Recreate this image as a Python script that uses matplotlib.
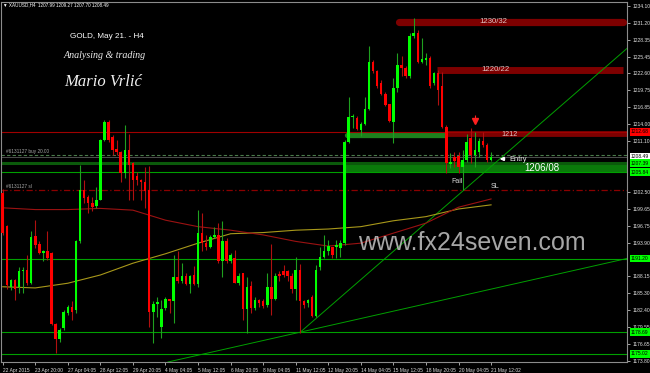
import matplotlib
matplotlib.use('Agg')
import matplotlib.pyplot as plt
import numpy as np

# ---- XAUUSD H4 candles (bar 0 = 22 Apr 2015) ----
opens = [1202.3, 1196.7, 1186.4, 1187.6, 1186.4, 1189.0, 1189.3, 1187.0, 1195.0, 1193.7,
         1192.1, 1192.4, 1192.1, 1180.1, 1177.5, 1179.4, 1181.9, 1183.0, 1182.4, 1194.1,
         1202.8, 1201.7, 1200.6, 1200.1, 1201.2, 1211.3, 1214.4, 1211.9, 1209.7, 1209.3,
         1205.7, 1209.6, 1207.4, 1205.2, 1204.5, 1204.2, 1202.8, 1182.2, 1183.5, 1179.6,
         1182.8, 1184.3, 1183.9, 1188.0, 1187.3, 1188.2, 1186.9, 1188.4, 1186.9, 1195.6,
         1193.8, 1193.2, 1194.8, 1195.2, 1190.7, 1194.2, 1190.7, 1191.2, 1187.0, 1188.7,
         1182.6, 1186.5, 1182.8, 1184.2, 1183.9, 1183.3, 1186.3, 1184.4, 1188.6, 1189.0,
         1189.0, 1188.2, 1186.0, 1189.3, 1184.0, 1183.7, 1184.7, 1181.5, 1189.8, 1191.5,
         1192.4, 1193.1, 1193.2, 1192.9, 1193.8, 1211.0, 1215.2, 1215.0, 1213.0, 1214.1,
         1216.5, 1224.6, 1223.0, 1221.0, 1219.2, 1217.4, 1214.4, 1220.1, 1224.0, 1223.5,
         1222.1, 1229.0, 1229.5, 1224.6, 1224.9, 1225.2, 1220.9, 1222.7, 1220.5, 1213.5,
         1207.2, 1208.5, 1208.6, 1206.8, 1207.9, 1211.6, 1208.8, 1209.3, 1211.1, 1210.5,
         1207.99]
highs = [1203.0, 1196.9, 1187.8, 1187.8, 1189.8, 1189.8, 1191.8, 1195.8, 1197.7, 1194.1,
         1192.7, 1195.8, 1192.3, 1180.3, 1179.4, 1182.5, 1183.3, 1183.9, 1194.3, 1207.1,
         1204.5, 1202.0, 1201.7, 1203.4, 1211.4, 1214.7, 1214.7, 1212.2, 1211.3, 1209.5,
         1213.9, 1212.4, 1207.6, 1205.9, 1204.7, 1206.8, 1206.9, 1183.9, 1184.7, 1184.2,
         1184.7, 1184.4, 1191.8, 1192.4, 1190.4, 1188.7, 1188.4, 1189.9, 1199.4, 1198.9,
         1195.2, 1195.2, 1196.6, 1197.2, 1197.5, 1194.6, 1192.1, 1192.7, 1188.7, 1188.8,
         1188.1, 1187.3, 1184.7, 1184.4, 1184.3, 1188.7, 1193.7, 1188.7, 1189.0, 1190.1,
         1189.3, 1188.7, 1191.5, 1190.3, 1184.2, 1184.4, 1185.0, 1190.1, 1193.2, 1195.2,
         1194.3, 1193.2, 1194.3, 1194.3, 1211.3, 1218.6, 1215.8, 1215.3, 1214.4, 1218.6,
         1227.2, 1224.9, 1223.2, 1221.5, 1219.5, 1217.5, 1221.8, 1226.0, 1225.5, 1223.8,
         1229.4, 1232.0, 1230.0, 1228.6, 1226.0, 1225.5, 1222.9, 1223.2, 1222.9, 1213.9,
         1209.1, 1209.3, 1209.3, 1209.6, 1212.4, 1213.4, 1212.7, 1211.6, 1212.6, 1210.8,
         1209.27]
lows = [1195.2, 1186.1, 1185.9, 1184.2, 1185.3, 1185.3, 1186.7, 1186.8, 1192.9, 1192.0,
        1190.7, 1191.0, 1179.9, 1175.1, 1177.1, 1179.1, 1181.6, 1180.8, 1181.9, 1193.9,
        1200.6, 1198.9, 1199.2, 1199.7, 1201.1, 1211.2, 1211.0, 1208.8, 1208.8, 1204.2,
        1204.8, 1201.1, 1201.1, 1203.7, 1201.1, 1199.7, 1179.6, 1176.8, 1181.3, 1177.7,
        1182.5, 1181.9, 1180.2, 1187.0, 1187.1, 1186.7, 1185.4, 1186.7, 1186.3, 1192.4,
        1192.7, 1192.9, 1194.6, 1190.4, 1188.1, 1190.4, 1190.4, 1187.0, 1186.7, 1180.7,
        1178.6, 1181.9, 1182.5, 1183.0, 1182.8, 1183.0, 1181.6, 1184.2, 1187.3, 1188.1,
        1187.3, 1185.3, 1184.2, 1178.6, 1182.8, 1183.0, 1181.3, 1181.3, 1189.3, 1191.2,
        1191.8, 1191.2, 1191.2, 1191.5, 1193.5, 1210.8, 1213.3, 1213.0, 1212.0, 1213.9,
        1216.4, 1222.6, 1220.1, 1219.0, 1217.0, 1214.4, 1210.8, 1219.5, 1222.1, 1221.8,
        1221.8, 1228.7, 1224.3, 1224.3, 1224.0, 1220.1, 1220.6, 1217.3, 1213.3, 1205.7,
        1206.5, 1206.8, 1205.7, 1202.8, 1207.6, 1207.4, 1206.8, 1208.5, 1210.2, 1207.6,
        1207.70]
closes = [1195.5, 1186.7, 1187.6, 1186.1, 1189.0, 1189.3, 1187.0, 1194.9, 1193.5, 1192.1,
          1192.4, 1191.2, 1180.1, 1177.5, 1179.1, 1182.2, 1183.0, 1182.2, 1194.1, 1202.8,
          1201.4, 1200.6, 1200.0, 1201.2, 1211.3, 1214.4, 1211.3, 1209.6, 1209.3, 1205.7,
          1209.6, 1207.1, 1204.5, 1204.5, 1204.1, 1202.7, 1182.2, 1183.5, 1183.8, 1182.6,
          1184.3, 1183.9, 1188.0, 1187.3, 1188.2, 1186.9, 1188.2, 1186.9, 1195.6, 1193.8,
          1193.2, 1194.8, 1195.2, 1190.7, 1194.1, 1190.7, 1191.8, 1187.1, 1188.2, 1182.6,
          1186.4, 1182.8, 1184.2, 1183.7, 1183.2, 1186.3, 1184.4, 1188.2, 1188.2, 1188.4,
          1188.2, 1186.0, 1189.3, 1183.9, 1183.3, 1184.2, 1181.5, 1189.3, 1191.5, 1192.4,
          1193.3, 1191.8, 1193.5, 1193.8, 1211.0, 1215.2, 1215.4, 1213.1, 1214.1, 1216.5,
          1224.6, 1223.0, 1220.5, 1219.2, 1217.3, 1214.6, 1220.1, 1224.0, 1223.5, 1222.1,
          1229.0, 1229.5, 1224.6, 1225.1, 1225.3, 1220.4, 1222.6, 1219.8, 1213.5, 1207.4,
          1207.6, 1207.8, 1206.8, 1207.9, 1210.9, 1208.8, 1209.6, 1211.1, 1210.5, 1207.9,
          1208.49]

# moving averages, read every 8 bars
ma_bars = [0, 8, 16, 24, 32, 40, 48, 56, 64, 72, 80, 88, 96, 104, 112, 120]
ma_olive = [1186.4, 1186.2, 1187.0, 1188.4, 1190.4, 1192.0, 1193.8, 1195.4,
            1195.6, 1196.0, 1196.2, 1196.6, 1197.6, 1198.3, 1199.6, 1200.3]
ma_red = [1199.8, 1199.5, 1199.5, 1199.7, 1199.4, 1197.7, 1196.6, 1196.0,
          1195.2, 1194.1, 1193.3, 1193.8, 1195.5, 1197.2, 1199.9, 1201.3]

time_labels = ["22 Apr 2015", "23 Apr 20:00", "27 Apr 04:05", "28 Apr 12:05",
               "29 Apr 20:05", "4 May 04:05", "5 May 12:05", "6 May 20:05",
               "8 May 04:05", "11 May 12:05", "12 May 20:05", "14 May 04:05",
               "15 May 12:05", "18 May 20:05", "20 May 04:05", "21 May 12:02"]
price_ticks = [1234.10, 1231.20, 1228.35, 1225.45, 1222.60, 1219.75, 1216.85, 1214.00,
               1211.10, 1202.50, 1199.65, 1196.75, 1193.90, 1188.15, 1185.30, 1182.40,
               1179.55, 1176.65, 1173.80]

# horizontal levels
green_levels = [1205.84, 1191.06, 1178.67, 1174.93]
level_labels = [(1212.68, '#ff0000'), (1208.49, '#ffffff'), (1207.39, '#00ff00'),
                (1205.84, '#00ff00'), (1191.20, '#00ff00'), (1178.69, '#00ff00'),
                (1175.02, '#00ff00')]

W, H = 650, 373
fig = plt.figure(figsize=(W / 100, H / 100), dpi=100, facecolor='black')
ax = fig.add_axes([1 / W, 11 / H, 626 / W, 360 / H])
ax.set_facecolor('black')
ax.set_xlim(-0.42, 153.4)
ax.set_ylim(1173.63, 1234.73)

def fx(px):
    return px / W

def fy(py):
    return 1 - py / H

# ---- zones and lines (behind candles) ----
ax.plot([97.3, 152.3], [1231.4, 1231.4], color='#7d0000', lw=5.2, solid_capstyle='round', zorder=1)
ax.plot([106.6, 152.3], [1223.2, 1223.2], color='#7d0000', lw=5.0, solid_capstyle='butt', zorder=1)
ax.plot([84.6, 108.8], [1212.2, 1212.2], color='#1d801d', lw=3.8, solid_capstyle='round', zorder=1)
ax.plot([109.2, 153.4], [1212.25, 1212.25], color='#7d0000', lw=4.2, solid_capstyle='butt', zorder=1)
ax.axhline(1212.68, color='#a00000', lw=0.8, zorder=1)
ax.fill_between([84.2, 153.4], 1205.9, 1207.55, color='#0a7a0a', lw=0, zorder=1)
ax.axhline(1208.75, color='#4a7a4a', lw=0.8, dashes=(3, 2), zorder=1)
ax.axhline(1208.49, color='#5a5a5a', lw=0.6, zorder=1)
ax.axhline(1207.39, color='#0b5a0b', lw=2.2, zorder=1)
ax.axhline(1202.77, color='#8b0000', lw=0.9, linestyle=(0, (5, 2, 1, 2)), zorder=1)
for lv in green_levels:
    ax.axhline(lv, color='#00a000', lw=0.8, zorder=1)

# trend lines
ax.plot([73, 153.4], [1178.62, 1226.85], color='#00a000', lw=0.7, zorder=2)
ax.plot([40.6, 153.4], [1173.63, 1191.2], color='#00a000', lw=0.7, zorder=2)

# moving averages
ax.plot(ma_bars, ma_olive, color='#a8981a', lw=0.8, zorder=2)
ax.plot(ma_bars, ma_red, color='#9b1212', lw=0.8, zorder=2)

# ---- candles ----
o, h, l, c = map(np.array, (opens, highs, lows, closes))
idx = np.arange(len(o))
up = c >= o
dn = ~up
ax.vlines(idx[up], l[up], h[up], color='#1fa01f', lw=0.8, zorder=3)
ax.vlines(idx[dn], l[dn], h[dn], color='#b01010', lw=0.8, zorder=3)
ax.bar(idx[up], np.maximum(c - o, 0.15)[up], bottom=o[up], width=0.62,
       color='#00ff00', linewidth=0, zorder=4)
ax.bar(idx[dn], np.maximum(o - c, 0.15)[dn], bottom=c[dn], width=0.62,
       color='#ff0000', linewidth=0, zorder=4)

# fractal marker
ax.plot(116, 1214.6, marker='v', color='#ff2020', markersize=4, zorder=5)
ax.vlines(116, 1214.6, 1215.6, color='#ff2020', lw=0.8, zorder=5)

# ---- zone texts ----
zkw = dict(family='Liberation Sans', ha='center', va='center', zorder=6)
ax.text(120.5, 1231.35, '1230/32', color='#e0c4c4', size=5.6, **zkw)
ax.text(121.0, 1223.2, '1220/22', color='#e0c4c4', size=5.6, **zkw)
ax.text(124.6, 1212.25, '1212', color='#e0c4c4', size=5.2, **zkw)
ax.text(132.5, 1206.55, '1206/08', color='white', size=7.0, **zkw)
ax.text(124.4, 1207.95, 'Entry', color='#e8e8e8', size=5.4, family='Liberation Sans',
        ha='left', va='center', zorder=6)
ax.annotate('', xy=(121.4, 1208.1), xytext=(124.0, 1208.1),
            arrowprops=dict(arrowstyle='-|>', color='white', lw=1.2, mutation_scale=5), zorder=6)
ax.text(111.7, 1204.2, 'Fail', color='#d8d8d8', size=5.0, **zkw)
ax.text(121.0, 1203.5, 'SL', color='#d8d8d8', size=5.0, **zkw)
ax.text(0.8, 1208.95, '#6131127 buy 20.00', color='#a8a8a8', size=3.4,
        family='Liberation Sans', ha='left', va='bottom', zorder=6)
ax.text(0.8, 1203.0, '#6131127 sl', color='#a8a8a8', size=3.4,
        family='Liberation Sans', ha='left', va='bottom', zorder=6)

# ---- axes styling ----
for s in ax.spines.values():
    s.set_color('#8c8c8c')
    s.set_linewidth(0.8)
ax.yaxis.tick_right()
ax.set_yticks(price_ticks)
ax.set_yticklabels([f'{p:.2f}' for p in price_ticks])
ax.set_xticks(list(range(0, 121, 8)))
ax.set_xticklabels(time_labels)
ax.tick_params(axis='y', colors='#bfbfbf', labelcolor='#e0e0e0', labelsize=3.6,
               length=2.5, width=0.6, pad=1.2)
ax.tick_params(axis='x', colors='#bfbfbf', labelcolor='#e0e0e0', labelsize=3.5,
               length=2.5, width=0.6, pad=1.5)
for lbl in ax.get_xticklabels() + ax.get_yticklabels():
    lbl.set_family('Liberation Sans')
for lbl in ax.get_xticklabels():
    lbl.set_ha('left')

# coloured price labels on the right scale
tr = ax.get_yaxis_transform()
for val, col in level_labels:
    ax.text(1.006, val, f'{val:.2f}', transform=tr, color='black', size=3.6,
            family='Liberation Sans', ha='left', va='center', clip_on=False, zorder=7,
            bbox=dict(boxstyle='square,pad=0.25', fc=col, ec='none'))

# ---- header and signature texts ----
fig.text(fx(3), fy(5), '\u25bc XAUUSD,H4  1207.99 1209.27 1207.70 1208.49', color='white',
         size=3.3, family='Liberation Sans', ha='left', va='center')
fig.text(fx(107), fy(37), 'GOLD, May 21. - H4', color='white', size=5.9,
         family='Liberation Sans', ha='center', va='center')
fig.text(fx(105), fy(56), 'Analysing & trading', color='#ececec', size=7.2,
         family='Liberation Serif', style='italic', ha='center', va='center')
fig.text(fx(103), fy(82), 'Mario Vrli\u0107', color='#f0f0f0', size=12,
         family='Liberation Serif', style='italic', ha='center', va='center')
fig.text(fx(472), fy(243), 'www.fx24seven.com', color='#c4c4c4', alpha=0.85, size=18,
         family='Liberation Sans', ha='center', va='center', zorder=10)

fig.savefig('out.png', dpi=100, facecolor='black')
